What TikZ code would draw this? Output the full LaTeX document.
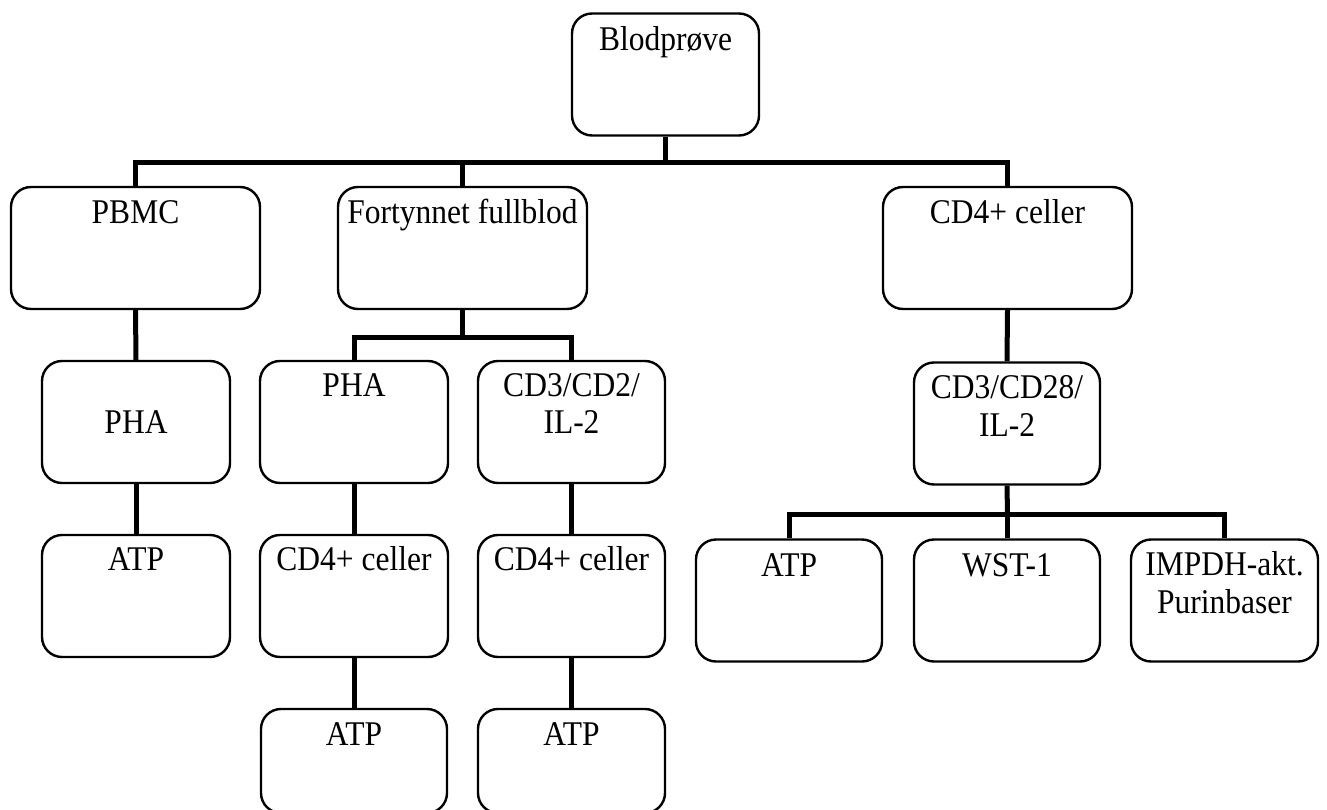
\documentclass[tikz,border=0pt]{standalone}
\usepackage{fontspec}
\setmainfont{Liberation Serif}
\begin{document}
\begin{tikzpicture}[x=1pt,y=-1pt,
  box/.style={draw, line width=2.4pt, rounded corners=20pt, inner sep=0pt,
              minimum width=#1, minimum height=122pt},
  box/.default=188pt,
  txt/.style={anchor=base, align=center, inner sep=0pt, yscale=1.1, transform shape,
              font=\fontsize{31.5}{34}\selectfont},
  conn/.style={line width=5pt, line join=miter}
]
\useasboundingbox (0,0) rectangle (1327,810);
\clip (0,0) rectangle (1327,810);
\fill[white] (0,0) rectangle (1327,810);

% boxes
\node[box=187pt] (blod) at (665.5,74.5) {};
\node[box=249pt] (pbmc) at (135.5,248) {};
\node[box=249pt] (fort) at (462.5,248) {};
\node[box=249pt] (cd4a) at (1007.5,248) {};
\node[box] (pha1) at (136,422) {};
\node[box] (pha2) at (354,422) {};
\node[box=187pt] (cd32) at (571.5,422) {};
\node[box=186pt] (cd328) at (1007,423.5) {};
\node[box] (atp1) at (136,596) {};
\node[box] (cd4b) at (354,596) {};
\node[box=187pt] (cd4c) at (571.5,596) {};
\node[box=186pt] (atp2) at (789,600.5) {};
\node[box=186pt] (wst) at (1007,600.5) {};
\node[box=187pt] (impdh) at (1224.5,600.5) {};
\node[box=186pt, minimum height=104pt] (atp3) at (354,761) {};
\node[box=187pt, minimum height=104pt] (atp4) at (571.5,761) {};

% texts (anchor=base is the baseline of the last line)
\node[txt] (tblod) at ([yshift=-38pt]blod.north) {Blodprøve};
\node[txt] (tpbmc) at ([yshift=-38pt]pbmc.north) {PBMC};
\node[txt] (tfort) at ([yshift=-38pt]fort.north) {Fortynnet fullblod};
\node[txt] (tcd4a) at ([yshift=-38pt]cd4a.north) {CD4+ celler};
\node[txt] (tpha1) at ([yshift=-74pt]pha1.north) {PHA};
\node[txt] (tpha2) at ([yshift=-37pt]pha2.north) {PHA};
\node[txt] (tcd32) at ([yshift=-74pt]cd32.north) {CD3/CD2/\\IL-2};
\node[txt] (tcd328) at ([yshift=-75pt]cd328.north) {CD3/CD28/\\IL-2};
\node[txt] (tatp1) at ([yshift=-37pt]atp1.north) {ATP};
\node[txt] (tcd4b) at ([yshift=-37pt]cd4b.north) {CD4+ celler};
\node[txt] (tcd4c) at ([yshift=-37pt]cd4c.north) {CD4+ celler};
\node[txt] (tatp2) at ([yshift=-38pt]atp2.north) {ATP};
\node[txt] (twst) at ([yshift=-38pt]wst.north) {WST-1};
\node[txt] (timpdh) at ([yshift=-75pt]impdh.north) {IMPDH-akt.\\Purinbaser};
\node[txt] (tatp3) at ([yshift=-38pt]atp3.north) {ATP};
\node[txt] (tatp4) at ([yshift=-38pt]atp4.north) {ATP};

% connectors
\coordinate (j1) at (665.5,163);
\coordinate (j2) at (462.5,337);
\coordinate (j3) at (1007.5,514);
\draw[conn] (blod.south) -- (j1);
\draw[conn] (pbmc.north) |- (j1) -| (cd4a.north);
\draw[conn] (fort.north) -- (fort.north |- j1);
\draw[conn] (pbmc.south) -- (pha1.north);
\draw[conn] (pha1.south) -- (atp1.north);
\draw[conn] (fort.south) -- (j2);
\draw[conn] (pha2.north) |- (j2) -| (cd32.north);
\draw[conn] (pha2.south) -- (cd4b.north);
\draw[conn] (cd32.south) -- (cd4c.north);
\draw[conn] (cd4b.south) -- (atp3.north);
\draw[conn] (cd4c.south) -- (atp4.north);
\draw[conn] (cd4a.south) -- (cd328.north);
\draw[conn] (cd328.south) -- (j3);
\draw[conn] (atp2.north) |- (j3) -| (impdh.north);
\draw[conn] (wst.north) -- (wst.north |- j3);
\end{tikzpicture}
\end{document}
